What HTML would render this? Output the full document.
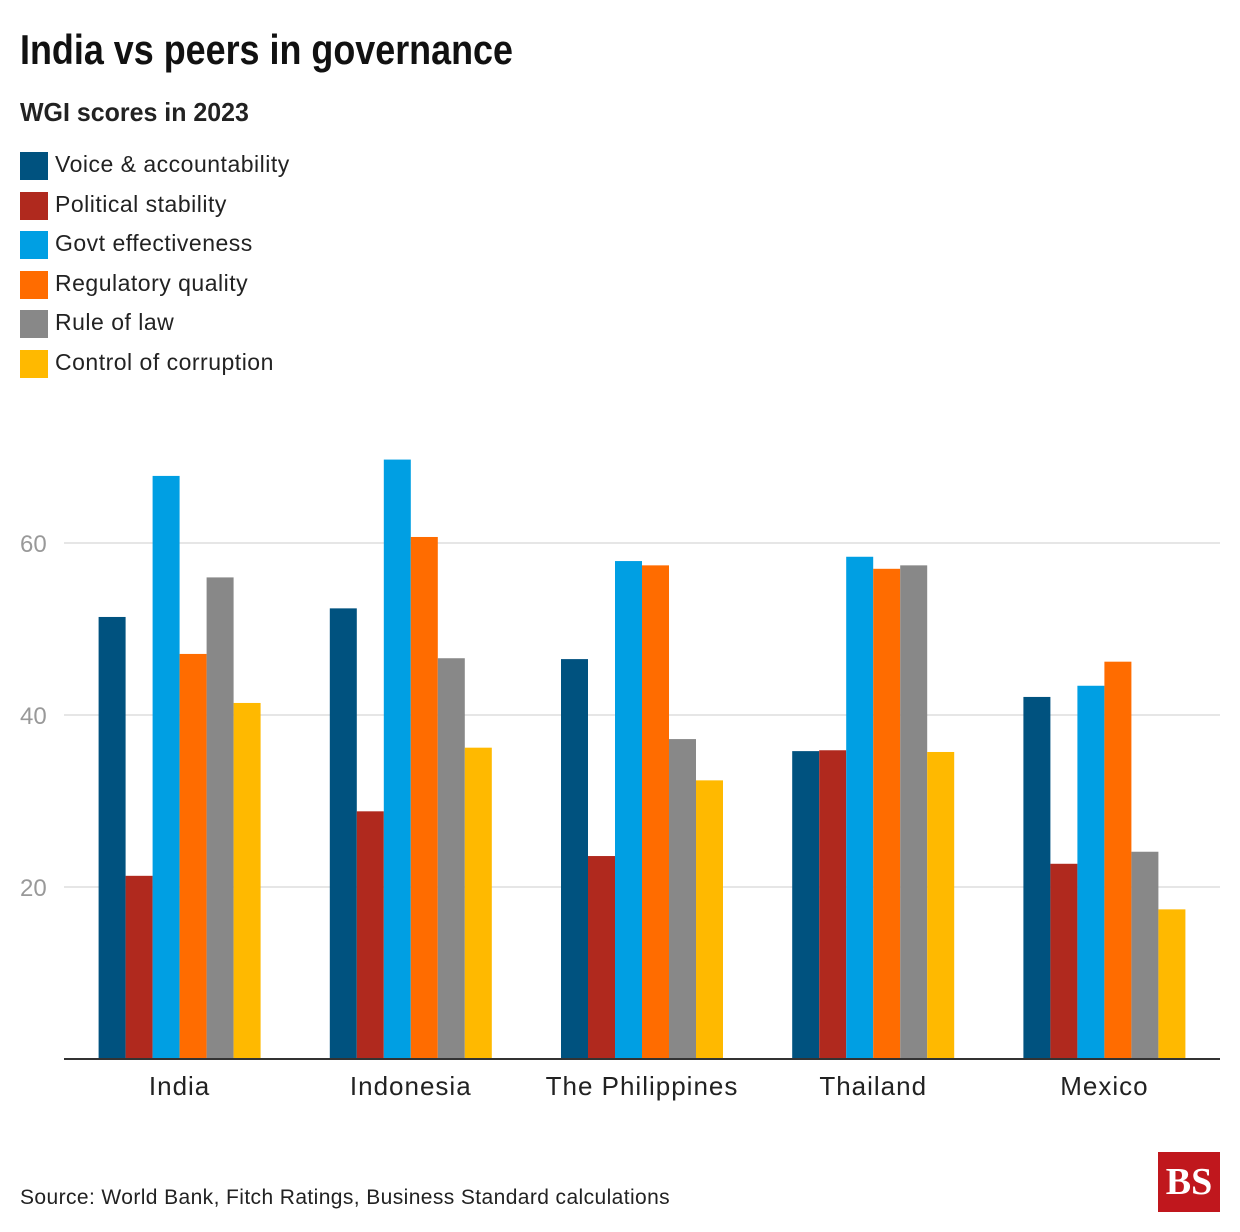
<!DOCTYPE html>
<html><head><meta charset="utf-8"><style>
body{margin:0;background:#fff;font-family:"Liberation Sans",sans-serif;}
#wrap{position:relative;width:1240px;height:1232px;overflow:hidden;}
.t{position:absolute;margin:0;white-space:nowrap;}
.lg{position:absolute;left:20px;height:28px;font-size:23px;color:#222;letter-spacing:0.5px;}
.lg span{display:inline-block;width:28px;height:28px;vertical-align:middle;margin-right:7px;}
</style></head><body>
<div id="wrap">
<h1 class="t" style="left:20px;top:26px;font-size:42px;font-weight:bold;color:#111;transform:scaleX(0.855);transform-origin:0 0;">India vs peers in governance</h1>
<div class="t" style="left:20px;top:97px;font-size:26px;font-weight:bold;color:#222;transform:scaleX(0.96);transform-origin:0 0;">WGI scores in 2023</div>
<div id="legend"></div>
<svg id="chart" width="1240" height="1232" style="position:absolute;left:0;top:0"></svg>
<div class="t" style="left:20px;top:1186px;font-size:21px;color:#222;letter-spacing:0.4px;">Source: World Bank, Fitch Ratings, Business Standard calculations</div>
<div class="t" style="left:1158px;top:1152px;width:62px;height:60px;background:#c0171d;color:#fff;font-family:'Liberation Serif',serif;font-weight:bold;font-size:38px;line-height:60px;text-align:center;">BS</div>
</div>
<script>
const categories=["India","Indonesia","The Philippines","Thailand","Mexico"];
const seriesNames=["Voice & accountability","Political stability","Govt effectiveness","Regulatory quality","Rule of law","Control of corruption"];
const voice=[51.4,52.4,46.5,35.8,42.1];
const political=[21.3,28.8,23.6,35.9,22.7];
const govt=[67.8,69.7,57.9,58.4,43.4];
const regulatory=[47.1,60.7,57.4,57.0,46.2];
const ruleOfLaw=[56.0,46.6,37.2,57.4,24.1];
const corruption=[41.4,36.2,32.4,35.7,17.4];
const yTicks=[20,40,60];
const series=[voice,political,govt,regulatory,ruleOfLaw,corruption];
const colors=["#00527f","#b0291e","#009fe3","#ff6c00","#888888","#ffb900"];
const NS="http://www.w3.org/2000/svg";
const svg=document.getElementById('chart');
const x0=64,x1=1220,y0=1059,pxPer=8.6;
const y=v=>y0-v*pxPer;
const groupW=(x1-x0)/categories.length;
const xc=i=>x0+groupW*(i+0.5);
const bw=27;
function mk(tag,attrs){const e=document.createElementNS(NS,tag);for(const k in attrs)e.setAttribute(k,attrs[k]);svg.appendChild(e);return e;}
yTicks.forEach(t=>{
 const l=mk('line',{x1:x0,x2:x1,y1:y(t),y2:y(t),stroke:'#ddd','stroke-width':1.5});
 
 
 const tx=mk('text',{x:20,y:y(t)+9,'font-size':24,fill:'#999','font-family':'Liberation Sans, sans-serif'});
 tx.textContent=t;
 
 
});
categories.forEach((c,i)=>{
 series.forEach((s,j)=>{
  const r=mk('rect',{x:xc(i)-3*bw+j*bw,y:y(s[i]),width:bw,height:s[i]*pxPer,fill:colors[j]});
  
  
 });
 const tx=mk('text',{x:xc(i),y:1095,'font-size':26,fill:'#222','text-anchor':'middle','font-family':'Liberation Sans, sans-serif','letter-spacing':1});
 tx.textContent=c;
 
 
});
const ax=mk('line',{x1:x0,x2:x1,y1:y0,y2:y0,stroke:'#333','stroke-width':2});


const lg=document.getElementById('legend');
seriesNames.forEach((n,j)=>{
 const d=document.createElement('div');
 d.className='lg';d.style.top=(151+j*39.6)+'px';
 d.innerHTML='<span style="background:'+colors[j]+'"></span>'+n.replace('&','&amp;');
 
 
 lg.appendChild(d);
});
</script>
</body></html>
